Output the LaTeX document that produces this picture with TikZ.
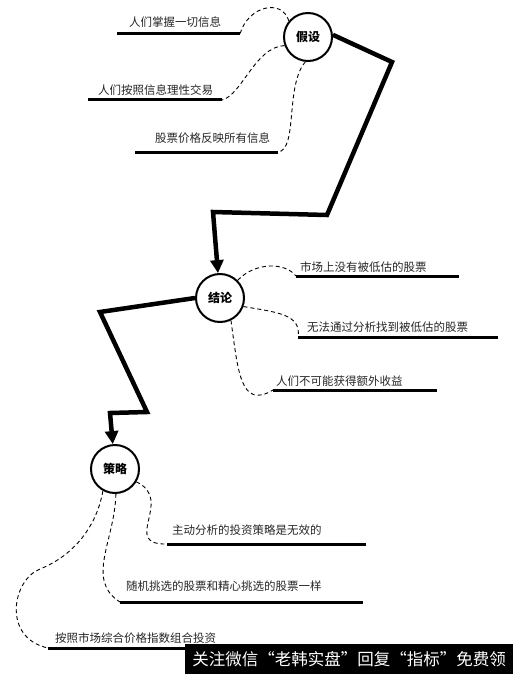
\documentclass[tikz,border=0pt]{standalone}
\usepackage{fontspec}
\setmainfont{Noto Sans CJK SC}
\usetikzlibrary{arrows.meta}
\tikzset{
  idea/.style={circle, draw=black, line width=2pt, fill=white, minimum size=48pt,
               inner sep=0pt, font=\fontsize{12}{12}\selectfont\bfseries},
  lbl/.style={anchor=base west, inner sep=0pt, text=black!85,
              font=\fontsize{11.5}{12}\selectfont},
  uline/.style={line width=3pt},
  flow/.style={line width=4.5pt, -{Triangle[length=13pt, width=13pt]}},
  link/.style={line width=0.9pt, dash pattern=on 4pt off 3pt},
  wmark/.style={fill=black, text=white, inner sep=0pt, minimum width=328pt,
                minimum height=30pt, font=\fontsize{16.5}{17}\selectfont},
}
\begin{document}
\begin{tikzpicture}[x=1pt, y=-1pt]
    \useasboundingbox (0,0) rectangle (513,674);
    % circles
    \node[idea] (hyp) at (308,37) {假设};
    \node[idea] (con) at (220,298) {结论};
    \node[idea] (str) at (115,469) {策略};
    % bends of the thick arrows
    \coordinate (z1) at (392,62); \coordinate (z2) at (327,215);
    \coordinate (z3) at (213,212);
    \coordinate (z4) at (100,312); \coordinate (z5) at (147,412);
    \coordinate (z6) at (110,413);
    \draw[flow] (hyp.5) -- (z1) -- (z2) -- (z3) -- (con);
    \draw[flow] (con.west) -- (z4) -- (z5) -- (z6) -- (str);
    % underlines
    \coordinate (a1l) at (117,34);  \coordinate (a1r) at (240,34);
    \coordinate (a2l) at (88,100);  \coordinate (a2r) at (222,100);
    \coordinate (a3l) at (135,152); \coordinate (a3r) at (278,152);
    \coordinate (b1l) at (296,276); \coordinate (b1r) at (459,276);
    \coordinate (b2l) at (298,337); \coordinate (b2r) at (498,337);
    \coordinate (b3l) at (273,390); \coordinate (b3r) at (437,390);
    \coordinate (c1l) at (167,544); \coordinate (c1r) at (366,544);
    \coordinate (c2l) at (120,602); \coordinate (c2r) at (363,602);
    \coordinate (c3l) at (48,648);  \coordinate (c3r) at (260,648);
    \foreach \u in {a1,a2,a3,b1,b2,b3,c1,c2,c3}
      \draw[uline] (\u l) -- (\u r);
    % texts
    \node[lbl] (ta1) at (129,26.5) {人们掌握一切信息};
    \node[lbl] (ta2) at (98,94.5) {人们按照信息理性交易};
    \node[lbl] (ta3) at (155,142.5) {股票价格反映所有信息};
    \node[lbl] (tb1) at (300,271) {市场上没有被低估的股票};
    \node[lbl] (tb2) at (307,331) {无法通过分析找到被低估的股票};
    \node[lbl] (tb3) at (276,385) {人们不可能获得额外收益};
    \node[lbl] (tc1) at (172,534) {主动分析的投资策略是无效的};
    \node[lbl] (tc2) at (126,590) {随机挑选的股票和精心挑选的股票一样};
    \node[lbl] (tc3) at (55,642) {按照市场综合价格指数组合投资};
    % dashed links
    \draw[link] (hyp.140) .. controls (282,-2) and (248,6) .. (a1r);
    \draw[link] (hyp.200) .. controls (255,47) and (242,95) .. (a2r);
    \draw[link] (hyp.264) .. controls (285,85) and (298,150) .. (a3r);
    \draw[link] (con.45) .. controls (255,262) and (285,262) .. (b1l);
    \draw[link] (con.340) .. controls (275,312) and (302,314) .. (b2l);
    \draw[link] (con.296) .. controls (238,370) and (240,410) .. (b3l);
    \coordinate (c3m) at (40,569);
    \draw[link] (str.329) .. controls (175,500) and (120,545) .. (c1l);
    \draw[link] (str.272) .. controls (115,540) and (85,580) .. (c2l);
    \draw[link] (str.241) .. controls (97,525) and (75,555) .. (c3m)
                .. controls (12,580) and (2,638) .. (c3l);
    % watermark bar
    \node[wmark] (wm) at (349,659) {关注微信“老韩实盘”回复“指标”免费领};
\end{tikzpicture}
\end{document}
